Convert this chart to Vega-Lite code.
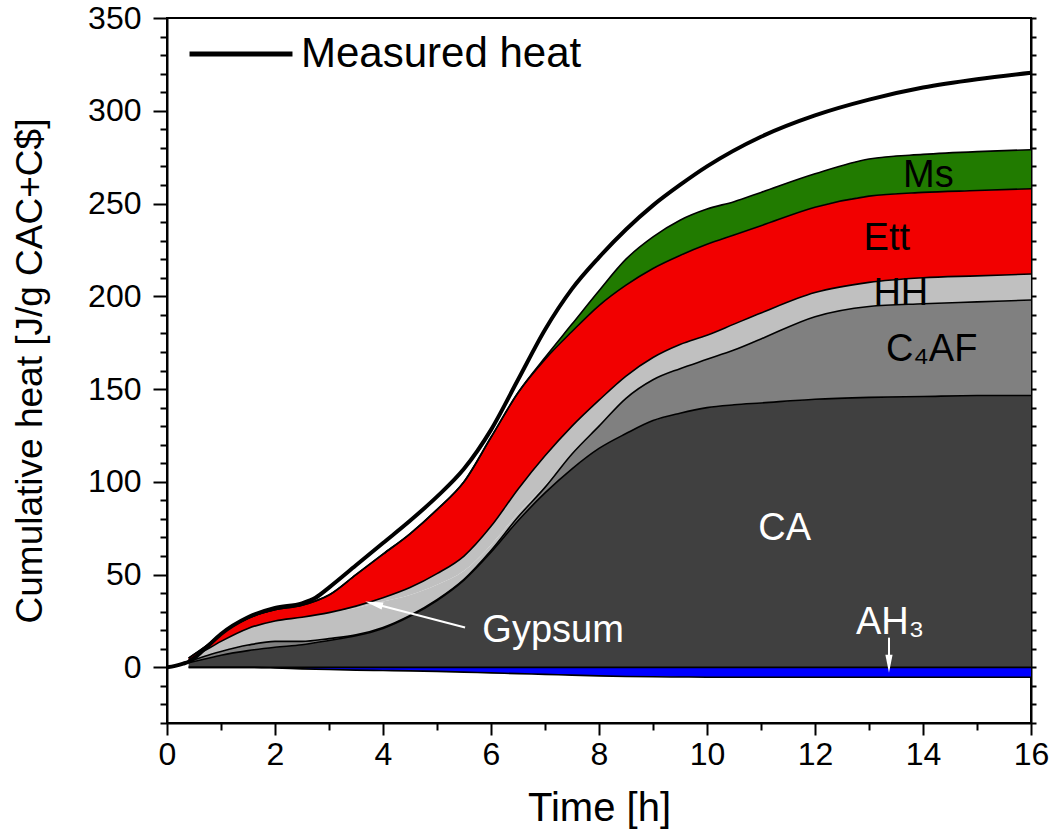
{
  "$schema": "https://vega.github.io/schema/vega-lite/v6.json",
  "width": 864,
  "height": 705,
  "autosize": {"type": "none"},
  "padding": {"left": 167, "top": 18, "right": 26, "bottom": 112},
  "background": "white",
  "config": {
    "font": "Liberation Sans",
    "view": {"stroke": "black", "strokeWidth": 2},
    "axis": {
      "grid": false,
      "domainColor": "black",
      "domainWidth": 2,
      "tickColor": "black",
      "tickWidth": 2,
      "labelColor": "black",
      "titleColor": "black",
      "labelFont": "Liberation Sans",
      "titleFont": "Liberation Sans",
      "titleFontWeight": "normal",
      "labelFontSize": 32,
      "labelOverlap": false,
      "labelBound": false,
      "labelFlush": false
    }
  },
  "datasets": {
    "heat": [
      {"t": 0.4, "CA": 2.5, "C4AF": 0.5, "Gypsum": 1, "HH": 0, "Ett": 1, "Ms": 0, "AH3": 0},
      {"t": 0.7, "CA": 4.5, "C4AF": 1.5, "Gypsum": 3, "HH": 0, "Ett": 2, "Ms": 0, "AH3": 0},
      {"t": 1.0, "CA": 6.5, "C4AF": 2, "Gypsum": 5.5, "HH": 0, "Ett": 4, "Ms": 0, "AH3": 0},
      {"t": 1.5, "CA": 9, "C4AF": 3, "Gypsum": 9, "HH": 0, "Ett": 5.5, "Ms": 0, "AH3": 0},
      {"t": 2.0, "CA": 10.8, "C4AF": 3.2, "Gypsum": 11, "HH": 0, "Ett": 6, "Ms": 0, "AH3": -0.3},
      {"t": 2.5, "CA": 12.2, "C4AF": 1.8, "Gypsum": 13, "HH": 0, "Ett": 6.5, "Ms": 0, "AH3": -0.8},
      {"t": 3.0, "CA": 14.5, "C4AF": 1, "Gypsum": 14, "HH": 0, "Ett": 9.5, "Ms": 0, "AH3": -1.2},
      {"t": 3.5, "CA": 17, "C4AF": 0.5, "Gypsum": 14.5, "HH": 1, "Ett": 17, "Ms": 0, "AH3": -1.5},
      {"t": 4.0, "CA": 21, "C4AF": 0.5, "Gypsum": 14, "HH": 2, "Ett": 23.5, "Ms": 0, "AH3": -1.7},
      {"t": 4.5, "CA": 27.5, "C4AF": 0.5, "Gypsum": 11, "HH": 4, "Ett": 29, "Ms": 0, "AH3": -1.9},
      {"t": 5.0, "CA": 36, "C4AF": 0.5, "Gypsum": 8, "HH": 6, "Ett": 34.5, "Ms": 0, "AH3": -2.2},
      {"t": 5.5, "CA": 47, "C4AF": 0.5, "Gypsum": 4.5, "HH": 8, "Ett": 40, "Ms": 0, "AH3": -2.6},
      {"t": 6.0, "CA": 62, "C4AF": 1, "Gypsum": 3, "HH": 10, "Ett": 48, "Ms": 0, "AH3": -3},
      {"t": 6.5, "CA": 79, "C4AF": 2, "Gypsum": 2, "HH": 13, "Ett": 52, "Ms": 0, "AH3": -3.4},
      {"t": 7.0, "CA": 94, "C4AF": 3, "Gypsum": 1, "HH": 16, "Ett": 52, "Ms": 1, "AH3": -3.8},
      {"t": 7.5, "CA": 107, "C4AF": 8, "Gypsum": 0, "HH": 15, "Ett": 51, "Ms": 4, "AH3": -4.2},
      {"t": 8.0, "CA": 118, "C4AF": 12, "Gypsum": 0, "HH": 14, "Ett": 51, "Ms": 8, "AH3": -4.6},
      {"t": 8.5, "CA": 126, "C4AF": 19, "Gypsum": 0, "HH": 12, "Ett": 49, "Ms": 14, "AH3": -4.9},
      {"t": 9.0, "CA": 133, "C4AF": 22, "Gypsum": 0, "HH": 12, "Ett": 48, "Ms": 17, "AH3": -5.1},
      {"t": 9.5, "CA": 137, "C4AF": 24, "Gypsum": 0, "HH": 13, "Ett": 48, "Ms": 19, "AH3": -5.2},
      {"t": 10, "CA": 140, "C4AF": 26, "Gypsum": 0, "HH": 13, "Ett": 49, "Ms": 19, "AH3": -5.3},
      {"t": 10.5, "CA": 141.5, "C4AF": 29.5, "Gypsum": 0, "HH": 14, "Ett": 48, "Ms": 18, "AH3": -5.3},
      {"t": 11, "CA": 142.5, "C4AF": 34.5, "Gypsum": 0, "HH": 14, "Ett": 47, "Ms": 18, "AH3": -5.3},
      {"t": 12, "CA": 144.5, "C4AF": 44.5, "Gypsum": 0, "HH": 13, "Ett": 46, "Ms": 18, "AH3": -5.3},
      {"t": 13, "CA": 145.5, "C4AF": 49, "Gypsum": 0, "HH": 13, "Ett": 46.5, "Ms": 20, "AH3": -5.3},
      {"t": 14, "CA": 146, "C4AF": 50, "Gypsum": 0, "HH": 14, "Ett": 46, "Ms": 20.5, "AH3": -5.3},
      {"t": 15, "CA": 146.5, "C4AF": 50.5, "Gypsum": 0, "HH": 14, "Ett": 46, "Ms": 21, "AH3": -5.3},
      {"t": 16, "CA": 146.5, "C4AF": 51.5, "Gypsum": 0, "HH": 14, "Ett": 46, "Ms": 21, "AH3": -5.3}
    ],
    "measured": [
      {"t": 0, "heat": 0},
      {"t": 0.15, "heat": 0.8},
      {"t": 0.3, "heat": 2},
      {"t": 0.4, "heat": 3},
      {"t": 0.7, "heat": 10},
      {"t": 1.0, "heat": 18},
      {"t": 1.5, "heat": 27},
      {"t": 2.0, "heat": 32},
      {"t": 2.5, "heat": 34.5},
      {"t": 2.75, "heat": 37.5},
      {"t": 3.0, "heat": 43},
      {"t": 3.5, "heat": 55},
      {"t": 4.0, "heat": 67},
      {"t": 4.5, "heat": 79},
      {"t": 5.0, "heat": 92},
      {"t": 5.5, "heat": 107},
      {"t": 6.0, "heat": 128},
      {"t": 6.5, "heat": 155},
      {"t": 7.0, "heat": 182},
      {"t": 7.5, "heat": 204},
      {"t": 8.0, "heat": 221},
      {"t": 8.5, "heat": 236},
      {"t": 9.0, "heat": 249},
      {"t": 9.5, "heat": 260},
      {"t": 10, "heat": 270},
      {"t": 11, "heat": 286},
      {"t": 12, "heat": 297.5},
      {"t": 13, "heat": 306},
      {"t": 14, "heat": 312.5},
      {"t": 15, "heat": 317},
      {"t": 16, "heat": 320.5}
    ],
    "phaseOrder": [
      {"phase": "AH3", "rank": 0},
      {"phase": "CA", "rank": 1},
      {"phase": "C4AF", "rank": 2},
      {"phase": "Gypsum", "rank": 3},
      {"phase": "HH", "rank": 4},
      {"phase": "Ett", "rank": 5},
      {"phase": "Ms", "rank": 6}
    ]
  },
  "resolve": {"axis": {"x": "independent", "y": "independent"}},
  "layer": [
    {
      "data": {"name": "heat"},
      "transform": [
        {"fold": ["AH3", "CA", "C4AF", "Gypsum", "HH", "Ett", "Ms"], "as": ["phase", "value"]},
        {"lookup": "phase", "from": {"data": {"name": "phaseOrder"}, "key": "phase", "fields": ["rank"]}},
        {"stack": "value", "groupby": ["t"], "sort": [{"field": "rank", "order": "ascending"}], "as": ["lo", "hi"]}
      ],
      "layer": [
        {
          "mark": {"type": "area", "interpolate": "monotone"},
          "encoding": {
            "x": {
              "field": "t",
              "type": "quantitative",
              "title": "Time [h]",
              "scale": {"domain": [0, 16], "nice": false, "zero": false},
              "axis": {
                "orient": "bottom",
                "values": [0, 2, 4, 6, 8, 10, 12, 14, 16],
                "tickSize": 12,
                "labelPadding": 4,
                "titleFontSize": 40,
                "titlePadding": 18
              }
            },
            "y": {
              "field": "lo",
              "type": "quantitative",
              "title": "Cumulative heat [J/g CAC+C$]",
              "scale": {"domain": [-30, 350], "nice": false, "zero": false},
              "axis": {
                "orient": "left",
                "values": [0, 50, 100, 150, 200, 250, 300, 350],
                "tickSize": 14,
                "labelPadding": 12,
                "titleFontSize": 37,
                "titlePadding": 38
              }
            },
            "y2": {"field": "hi"},
            "fill": {
              "field": "phase",
              "type": "nominal",
              "scale": {
                "domain": ["AH3", "CA", "C4AF", "Gypsum", "HH", "Ett", "Ms"],
                "range": ["#0000ff", "#404040", "#808080", "#c0c0c0", "#c0c0c0", "#f20000", "#217b00"]
              },
              "legend": null
            }
          }
        },
        {
          "transform": [{"filter": "datum.phase !== 'Gypsum'"}],
          "mark": {"type": "line", "interpolate": "monotone", "color": "black", "strokeWidth": 1.6},
          "encoding": {
            "x": {"field": "t", "type": "quantitative", "title": "Time [h]"},
            "y": {"field": "hi", "type": "quantitative", "title": "Cumulative heat [J/g CAC+C$]"},
            "detail": {"field": "phase", "type": "nominal"}
          }
        }
      ]
    },
    {
      "data": {"values": [{"from": 0.4, "to": 16, "level": 0}]},
      "mark": {"type": "rule", "color": "black", "strokeWidth": 1.6},
      "encoding": {
        "x": {
          "field": "from",
          "type": "quantitative",
          "axis": {
            "orient": "bottom",
            "values": [1, 3, 5, 7, 9, 11, 13, 15],
            "tickSize": 7,
            "labels": false,
            "domain": false,
            "title": null
          }
        },
        "x2": {"field": "to"},
        "y": {
          "field": "level",
          "type": "quantitative",
          "axis": {
            "orient": "left",
            "values": [-30, -20, -10, 10, 20, 30, 40, 60, 70, 80, 90, 110, 120, 130, 140, 160, 170, 180, 190, 210, 220, 230, 240, 260, 270, 280, 290, 310, 320, 330, 340],
            "tickSize": 7,
            "labels": false,
            "domain": false,
            "title": null
          }
        }
      }
    },
    {
      "data": {"name": "measured"},
      "transform": [
        {"fold": ["heat"], "as": ["measure", "heatValue"]},
        {"lookup": "measure", "from": {"data": {"values": [{"measure": "heat", "series": "Measured heat"}]}, "key": "measure", "fields": ["series"]}}
      ],
      "mark": {"type": "line", "interpolate": "monotone", "strokeWidth": 4, "strokeJoin": "round"},
      "encoding": {
        "x": {"field": "t", "type": "quantitative", "axis": null},
        "y": {
          "field": "heat",
          "type": "quantitative",
          "axis": {
            "orient": "right",
            "values": [-30, -20, -10, 0, 10, 20, 30, 40, 50, 60, 70, 80, 90, 100, 110, 120, 130, 140, 150, 160, 170, 180, 190, 200, 210, 220, 230, 240, 250, 260, 270, 280, 290, 300, 310, 320, 330, 340, 350],
            "tickSize": 5,
            "labels": false,
            "title": null
          }
        },
        "stroke": {
          "field": "series",
          "type": "nominal",
          "scale": {"domain": ["Measured heat"], "range": ["black"]},
          "legend": {
            "orient": "none",
            "legendX": 20,
            "legendY": -18,
            "title": null,
            "symbolType": "stroke",
            "symbolSize": 10600,
            "symbolStrokeWidth": 5,
            "labelFontSize": 42,
            "labelFont": "Liberation Sans",
            "labelColor": "black",
            "labelOffset": 6,
            "labelLimit": 0,
            "padding": 0
          }
        }
      }
    },
    {
      "data": {"values": [
        {"t": 14.1, "heat": 259, "label": "Ms"},
        {"t": 13.33, "heat": 225, "label": "Ett"},
        {"t": 13.59, "heat": 195.5, "label": "HH"},
        {"t": 14.16, "heat": 165, "label": "C₄AF"}
      ]},
      "mark": {"type": "text", "fontSize": 38, "font": "Liberation Sans", "align": "center", "baseline": "alphabetic", "color": "black"},
      "encoding": {
        "x": {"field": "t", "type": "quantitative", "axis": null},
        "y": {"field": "heat", "type": "quantitative", "axis": null},
        "text": {"field": "label"}
      }
    },
    {
      "data": {"values": [
        {"t": 11.44, "heat": 68.4, "label": "CA"},
        {"t": 7.15, "heat": 13.5, "label": "Gypsum"},
        {"t": 13.39, "heat": 17.8, "label": "AH₃"}
      ]},
      "mark": {"type": "text", "fontSize": 38, "font": "Liberation Sans", "align": "center", "baseline": "alphabetic", "color": "white"},
      "encoding": {
        "x": {"field": "t", "type": "quantitative", "axis": null},
        "y": {"field": "heat", "type": "quantitative", "axis": null},
        "text": {"field": "label"}
      }
    },
    {
      "data": {"values": [
        {"t": 5.52, "heat": 21.5, "t2": 3.83, "heat2": 34.3},
        {"t": 13.37, "heat": 16, "t2": 13.37, "heat2": 2}
      ]},
      "mark": {"type": "rule", "color": "white", "strokeWidth": 2},
      "encoding": {
        "x": {"field": "t", "type": "quantitative", "axis": null},
        "y": {"field": "heat", "type": "quantitative", "axis": null},
        "x2": {"field": "t2"},
        "y2": {"field": "heat2"}
      }
    },
    {
      "data": {"values": [{"t": 3.83, "heat": 34.3}]},
      "mark": {"type": "point", "shape": "M0,-1L0.4,1L-0.4,1Z", "filled": true, "color": "white", "opacity": 1, "size": 324, "angle": 284.6},
      "encoding": {
        "x": {"field": "t", "type": "quantitative", "axis": null},
        "y": {"field": "heat", "type": "quantitative", "axis": null}
      }
    },
    {
      "data": {"values": [{"t": 13.37, "heat": 2}]},
      "mark": {"type": "point", "shape": "M0,-1L0.4,1L-0.4,1Z", "filled": true, "color": "white", "opacity": 1, "size": 324, "angle": 180},
      "encoding": {
        "x": {"field": "t", "type": "quantitative", "axis": null},
        "y": {"field": "heat", "type": "quantitative", "axis": null}
      }
    }
  ]
}
